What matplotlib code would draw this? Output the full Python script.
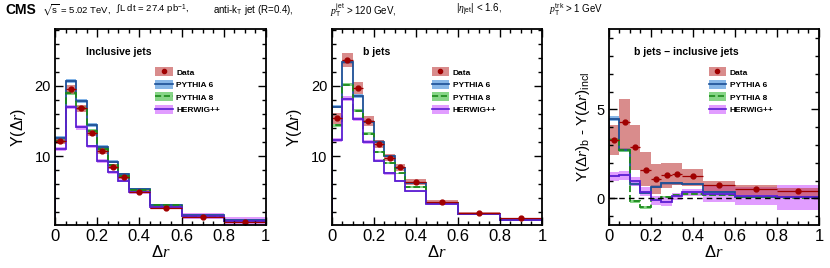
import matplotlib
matplotlib.use("Agg")
import matplotlib.pyplot as plt
import numpy as np
from matplotlib.patches import Patch
from matplotlib.lines import Line2D
from matplotlib.ticker import MultipleLocator, FixedLocator, FixedFormatter

plt.rcParams['font.family'] = ['Liberation Sans', 'DejaVu Sans']
plt.rcParams['mathtext.fontset'] = 'custom'
plt.rcParams['mathtext.rm'] = 'Liberation Sans'
plt.rcParams['mathtext.sf'] = 'Liberation Sans'
plt.rcParams['mathtext.it'] = 'Liberation Serif:italic'
plt.rcParams['mathtext.bf'] = 'Liberation Sans:bold'
plt.rcParams['mathtext.fallback'] = 'stix'

# bin edges in delta r
edges = np.array([0, 0.05, 0.1, 0.15, 0.2, 0.25, 0.3, 0.35, 0.45, 0.6, 0.8, 1.0])

# inclusive jets
incl_data = np.array([12.1, 19.5, 16.8, 13.3, 10.75, 8.5, 7.0, 4.95, 2.7, 1.3, 0.7])
incl_data_err = np.array([0.4, 0.6, 0.5, 0.45, 0.4, 0.35, 0.3, 0.25, 0.15, 0.1, 0.08])
incl_p6 = np.array([12.6, 20.7, 17.9, 14.45, 11.3, 9.2, 7.45, 5.3, 3.1, 1.6, 0.9])
incl_p6_err = np.array([0.3, 0.35, 0.3, 0.3, 0.25, 0.2, 0.2, 0.15, 0.12, 0.1, 0.1])
incl_p8 = np.array([12.2, 19.0, 16.9, 13.6, 11.0, 8.7, 7.2, 5.2, 3.0, 1.5, 0.8])
incl_p8_err = np.array([0.3, 0.35, 0.3, 0.3, 0.25, 0.2, 0.2, 0.15, 0.12, 0.1, 0.1])
incl_hw = np.array([11.05, 17.0, 14.1, 11.4, 9.3, 7.7, 6.5, 4.85, 2.8, 1.5, 0.8])
incl_hw_err = np.array([0.3, 0.3, 0.3, 0.25, 0.25, 0.2, 0.2, 0.2, 0.25, 0.45, 0.55])

# b jets
b_data = np.array([15.4, 23.75, 19.7, 15.0, 11.75, 9.8, 8.4, 6.3, 3.55, 1.9, 1.15])
b_data_err = np.array([0.8, 1.0, 0.9, 0.7, 0.6, 0.5, 0.45, 0.4, 0.2, 0.12, 0.08])
b_p6 = np.array([17.05, 23.4, 18.6, 14.9, 12.05, 10.0, 8.3, 6.25, 3.35, 1.8, 0.9])
b_p6_err = np.array([0.25, 0.3, 0.25, 0.2, 0.2, 0.15, 0.15, 0.12, 0.1, 0.08, 0.06])
b_p8 = np.array([14.4, 20.2, 16.5, 13.2, 10.6, 9.0, 7.55, 5.65, 3.3, 1.8, 1.0])
b_p8_err = np.array([0.2, 0.25, 0.2, 0.2, 0.15, 0.15, 0.12, 0.1, 0.08, 0.06, 0.05])
b_hw = np.array([12.35, 18.2, 15.25, 12.05, 9.35, 7.55, 6.45, 5.0, 3.2, 1.75, 0.9])
b_hw_err = np.array([0.3, 0.35, 0.3, 0.25, 0.2, 0.2, 0.15, 0.12, 0.1, 0.08, 0.06])

# b jets - inclusive jets
diff_data = np.array([3.3, 4.28, 2.86, 1.58, 1.1, 1.3, 1.39, 1.25, 0.76, 0.54, 0.41])
diff_data_lo = np.array([2.42, 2.73, 1.62, 0.69, 0.22, 0.6, 0.73, 0.69, 0.35, 0.18, 0.13])
diff_data_hi = np.array([4.13, 5.6, 4.1, 2.58, 1.91, 1.99, 1.99, 1.66, 1.0, 0.74, 0.6])
diff_p6 = np.array([4.48, 2.73, 0.82, 0.32, 0.65, 0.85, 0.85, 0.83, 0.37, 0.07, 0.07])
diff_p6_err = np.array([0.12, 0.12, 0.1, 0.1, 0.08, 0.08, 0.08, 0.06, 0.06, 0.05, 0.05])
diff_p8 = np.array([3.3, 2.7, -0.15, -0.5, -0.05, 0.1, 0.2, 0.25, 0.2, 0.1, 0.05])
diff_p8_err = np.array([0.1, 0.1, 0.08, 0.08, 0.07, 0.06, 0.06, 0.05, 0.05, 0.04, 0.04])
diff_hw = np.array([1.25, 1.3, 0.97, 0.37, -0.1, -0.19, 0.13, 0.35, 0.26, 0.13, 0.07])
diff_hw_err = np.array([0.25, 0.25, 0.25, 0.25, 0.25, 0.25, 0.2, 0.2, 0.45, 0.5, 0.7])

xtick_vals = [0, 0.2, 0.4, 0.6, 0.8, 1.0]
xtick_labels = ['0', '0.2', '0.4', '0.6', '0.8', '1']

DATA_C = '#a00000'
DATA_BAND = '#c04040'
P6_C, P6_BAND = '#1c4f96', '#5f9ee0'
P8_C, P8_BAND = '#1b8a1b', '#5fc85f'
HW_C, HW_BAND = '#5a1ed2', '#d77cff'

centers = 0.5 * (edges[1:] + edges[:-1])
halfw = 0.5 * (edges[1:] - edges[:-1])


def draw_panel(ax, data, dlo, dhi, mcs):
    # mc bands first, then data band, lines, points
    for vals, err, lc, bc, ls in mcs:
        ax.stairs(vals + err, edges, baseline=vals - err, fill=True, color=bc, alpha=0.75, lw=0)
    ax.stairs(dhi, edges, baseline=dlo, fill=True, color=DATA_BAND, alpha=0.6, lw=0)
    for vals, err, lc, bc, ls in mcs:
        ax.stairs(vals, edges, color=lc, ls=ls, lw=1.3)
    ax.errorbar(centers, data, xerr=halfw, fmt='o', ms=3.5, color=DATA_C, lw=0.9, capsize=0)


def style(ax, ylim, ymaj, ymin_step):
    ax.set_xlim(0, 1)
    ax.set_ylim(*ylim)
    ax.xaxis.set_major_locator(FixedLocator(xtick_vals))
    ax.xaxis.set_major_formatter(FixedFormatter(xtick_labels))
    ax.xaxis.set_minor_locator(MultipleLocator(0.05))
    ax.yaxis.set_major_locator(FixedLocator(ymaj))
    ax.yaxis.set_minor_locator(MultipleLocator(ymin_step))
    ax.tick_params(which='both', direction='in', top=True, right=True, width=1.0)
    ax.tick_params(which='major', length=6)
    ax.tick_params(which='minor', length=3)
    ax.tick_params(axis='x', labelsize=12, pad=3)
    ax.tick_params(axis='y', labelsize=10.5, pad=3)
    for s in ax.spines.values():
        s.set_linewidth(1.3)
    ax.set_xlabel(r'$\Delta r$', fontsize=12, labelpad=0)


def add_legend(ax):
    handles = [
        (Patch(color=DATA_BAND, alpha=0.6, lw=0), Line2D([], [], marker='o', ms=3, color=DATA_C, ls='none')),
        (Patch(color=P6_BAND, alpha=0.75, lw=0), Line2D([], [], color=P6_C, lw=1.2)),
        (Patch(color=P8_BAND, alpha=0.75, lw=0), Line2D([], [], color=P8_C, lw=1.2, ls='--')),
        (Patch(color=HW_BAND, alpha=0.75, lw=0), Line2D([], [], color=HW_C, lw=1.2)),
    ]
    labels = ['Data', 'PYTHIA 6', 'PYTHIA 8', 'HERWIG++']
    ax.legend(handles, labels, loc='upper left', bbox_to_anchor=(0.475, 0.805), frameon=False,
              prop={'weight': 'bold', 'size': 6}, handlelength=2.1, handleheight=1.25,
              labelspacing=0.4, handletextpad=0.45, borderpad=0, borderaxespad=0)


fig = plt.figure(figsize=(8.3, 2.68), dpi=100)
ax1 = fig.add_axes([0.0663, 0.160, 0.254, 0.731])
ax2 = fig.add_axes([0.3996, 0.160, 0.2534, 0.731])
ax3 = fig.add_axes([0.7337, 0.160, 0.253, 0.731])

draw_panel(ax1, incl_data, incl_data - incl_data_err, incl_data + incl_data_err,
           [(incl_p6, incl_p6_err, P6_C, P6_BAND, '-'),
            (incl_p8, incl_p8_err, P8_C, P8_BAND, '--'),
            (incl_hw, incl_hw_err, HW_C, HW_BAND, '-')])
draw_panel(ax2, b_data, b_data - b_data_err, b_data + b_data_err,
           [(b_p6, b_p6_err, P6_C, P6_BAND, '-'),
            (b_p8, b_p8_err, P8_C, P8_BAND, '--'),
            (b_hw, b_hw_err, HW_C, HW_BAND, '-')])
ax3.axhline(0, color='k', ls='--', lw=1.0, dashes=(4, 3))
draw_panel(ax3, diff_data, diff_data_lo, diff_data_hi,
           [(diff_p6, diff_p6_err, P6_C, P6_BAND, '-'),
            (diff_p8, diff_p8_err, P8_C, P8_BAND, '--'),
            (diff_hw, diff_hw_err, HW_C, HW_BAND, '-')])

style(ax1, (0.2, 28.07), [10, 20], 2)
style(ax2, (0.2, 28.07), [10, 20], 2)
style(ax3, (-1.5, 9.5), [0, 5], 1)

ax1.set_ylabel(r'Y($\Delta r$)', fontsize=11.5, labelpad=5)
ax2.set_ylabel(r'Y($\Delta r$)', fontsize=11.5, labelpad=5)
ax3.set_ylabel(r'Y($\Delta r$)$_{\mathrm{b}}$ - Y($\Delta r$)$_{\mathrm{incl}}$', fontsize=11, labelpad=3)

for ax in (ax1, ax2, ax3):
    add_legend(ax)

ax1.text(0.147, 0.884, 'Inclusive jets', transform=ax1.transAxes, fontsize=7.5, weight='bold', va='center')
ax2.text(0.15, 0.884, 'b jets', transform=ax2.transAxes, fontsize=7.5, weight='bold', va='center')
ax3.text(0.119, 0.884, 'b jets \u2212 inclusive jets', transform=ax3.transAxes, fontsize=7.5, weight='bold', va='center')

hy = 0.962
fig.text(0.006, hy, 'CMS', fontsize=10, weight='bold', va='center')
fig.text(0.050, hy, r'$\sqrt{\mathrm{s}}$ = 5.02 TeV,', fontsize=6.8, va='center')
fig.text(0.140, hy, r'$\int$L dt = 27.4 pb$^{-1}$,', fontsize=6.8, va='center')
fig.text(0.257, hy, r'anti-k$_{\mathrm{T}}$ jet (R=0.4),', fontsize=7, va='center')
fig.text(0.397, hy, r'$p_{\mathrm{T}}^{\mathrm{jet}}$ > 120 GeV,', fontsize=7, va='center')
fig.text(0.549, hy, r'|$\eta_{\mathrm{jet}}$| < 1.6,', fontsize=7, va='center')
fig.text(0.662, hy, r'$p_{\mathrm{T}}^{\mathrm{trk}}$ > 1 GeV', fontsize=7, va='center')

fig.savefig('out.png', dpi=100)
